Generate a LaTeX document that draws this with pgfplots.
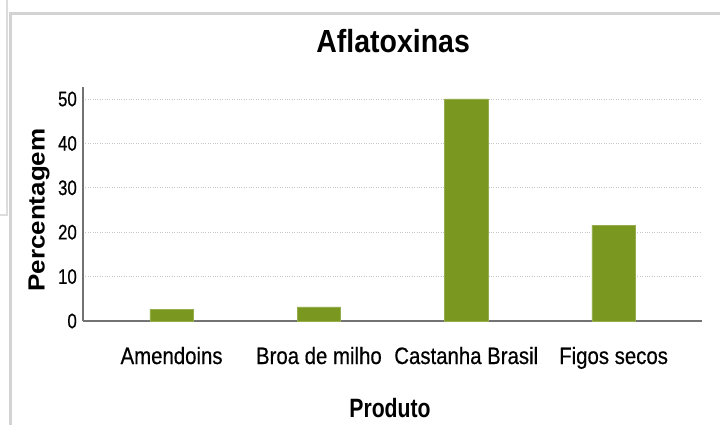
\documentclass[border=0pt]{standalone}
\usepackage{fontspec}
\setmainfont{Liberation Sans}
\newfontfamily\narrow{Liberation Sans}[FakeStretch=0.8]
\newfontfamily\narrowtick{Liberation Sans}[FakeStretch=0.8, FakeBold=0.6]
\newfontfamily\catfont{Liberation Sans}[FakeStretch=0.86, FakeBold=0.5]
\newfontfamily\titlefont{Liberation Sans}[FakeStretch=0.89]
\usepackage{graphicx}
\usepackage{pgfplots}
\pgfplotsset{compat=1.18}
\definecolor{barolive}{RGB}{122,152,32}
\definecolor{axisgray}{RGB}{115,115,115}
\definecolor{framegray}{RGB}{211,211,211}

\begin{document}
\begin{tikzpicture}
\useasboundingbox (0pt,0pt) rectangle (720pt,-425pt);
% window frame lines
\draw[framegray, line width=3pt] (9pt,-14pt) -- (720pt,-14pt);
\draw[framegray, line width=3pt] (10pt,-14pt) -- (10pt,-425pt);
\draw[framegray!80, line width=2pt] (7pt,0pt) -- (7pt,-215pt) -- (0pt,-215pt);
\begin{axis}[
  at={(83pt,-321pt)}, anchor=south west,
  scale only axis,
  width=619pt, height=234pt,
  xmin=-0.601, xmax=3.60,
  ymin=0, ymax=52.7,
  axis x line=bottom, axis y line=left,
  axis line style={axisgray, line width=1.6pt, -},
  xtick={0,1,2,3},
  xticklabels={Amendoins, Broa de milho, Castanha Brasil, Figos secos},
  ytick={0,10,20,30,40,50},
  major tick length=0pt,
  ymajorgrids,
  grid style={dotted, gray!45, line width=0.7pt},
  /pgf/number format/assume math mode=true,
  yticklabel style={font=\narrowtick\fontsize{21}{21}\selectfont, inner sep=0pt, anchor=east, xshift=-6pt},
  xticklabel style={font=\catfont\fontsize{23.7}{24}\selectfont, inner sep=0pt, anchor=base, yshift=-43pt},
  title={Aflatoxinas},
  title style={font=\titlefont\bfseries\fontsize{32}{32}\selectfont, at={(axis description cs:0.501,1)}, anchor=base, inner sep=0pt, yshift=29pt},
  xlabel={Produto},
  xlabel style={font=\narrow\bfseries\fontsize{26.5}{27}\selectfont, at={(axis description cs:0.496,0)}, anchor=base, inner sep=0pt, yshift=-96pt},
  ylabel={\scalebox{1}[0.9]{Percentagem}},
  ylabel style={font=\bfseries\fontsize{26}{26}\selectfont, at={(axis description cs:-0.0711,0.474)}, anchor=center, inner sep=0pt},
  ybar, bar width=0.295,
]
\addplot[fill=barolive, draw=barolive!80!white] coordinates {
  (0,2.7) (1,3.2) (2,50.0) (3,21.6)
};
\end{axis}
\end{tikzpicture}
\end{document}
